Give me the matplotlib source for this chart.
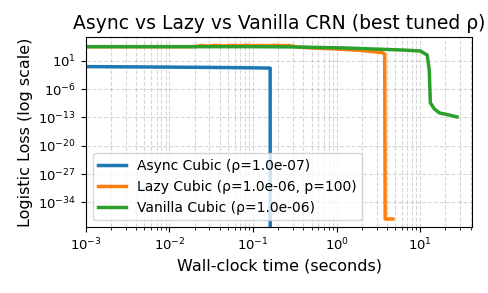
import matplotlib
matplotlib.use("Agg")
import matplotlib.pyplot as plt
import numpy as np

# Data
async_t = [0.001, 0.003, 0.01, 0.03, 0.06, 0.1, 0.16, 0.1605]
async_loss = [0.35, 0.3, 0.26, 0.22, 0.19, 0.17, 0.15, 1e-60]

lazy_t = [0.001, 0.02, 0.024, 0.03, 0.035, 0.045, 0.055, 0.07, 0.085, 0.1,
          0.12, 0.15, 0.18, 0.22, 0.27, 0.33, 0.5, 1.0, 2.0, 3.5, 3.75, 3.8, 4.7]
lazy_loss = [10**4.46, 10**4.46, 10**4.75, 10**4.6, 10**4.8, 10**4.65, 10**4.78,
             10**4.7, 10**4.82, 10**4.68, 10**4.78, 10**4.72, 10**4.8, 10**4.7,
             10**4.75, 10**4.4, 10**4.15, 10**3.9, 10**3.5, 10**3.0, 10**2.6,
             10**-38.1, 10**-38.1]

vanilla_t = [0.001, 0.01, 0.1, 0.3, 1.25, 6.0, 10.0, 12.1, 12.8, 13.2, 14.7,
             16.9, 22.0, 27.5]
vanilla_loss = [10**4.46, 10**4.46, 10**4.46, 10**4.4, 10**4.14, 10**3.64,
                10**3.4, 10**2.4, 10**-1.3, 10**-9.4, 10**-10.9, 10**-11.9,
                10**-12.4, 10**-12.9]

labels = ["Async Cubic (ρ=1.0e-07)", "Lazy Cubic (ρ=1.0e-06, p=100)",
          "Vanilla Cubic (ρ=1.0e-06)"]

fig, ax = plt.subplots(figsize=(4.88, 2.93), dpi=100)
fig.subplots_adjust(left=0.176, right=0.968, top=0.873, bottom=0.225)

ax.plot(async_t, async_loss, color="#1f77b4", lw=2.5, label=labels[0])
ax.plot(lazy_t, lazy_loss, color="#ff7f0e", lw=2.5, label=labels[1])
ax.plot(vanilla_t, vanilla_loss, color="#2ca02c", lw=2.5, label=labels[2])

ax.set_xscale("log")
ax.set_yscale("log")
ax.set_xlim(1e-3, 42)
ax.set_ylim(10**-40.1, 10**6.8)

ax.grid(True, which="both", ls="--", alpha=0.5)
ax.set_title("Async vs Lazy vs Vanilla CRN (best tuned ρ)", fontsize=13.5)
ax.set_xlabel("Wall-clock time (seconds)", fontsize=11.5)
ax.set_ylabel("Logistic Loss (log scale)", fontsize=11.5)
ax.tick_params(labelsize=9.5)
ax.legend(loc="lower left", fontsize=10)

fig.savefig("out.png", dpi=100)
